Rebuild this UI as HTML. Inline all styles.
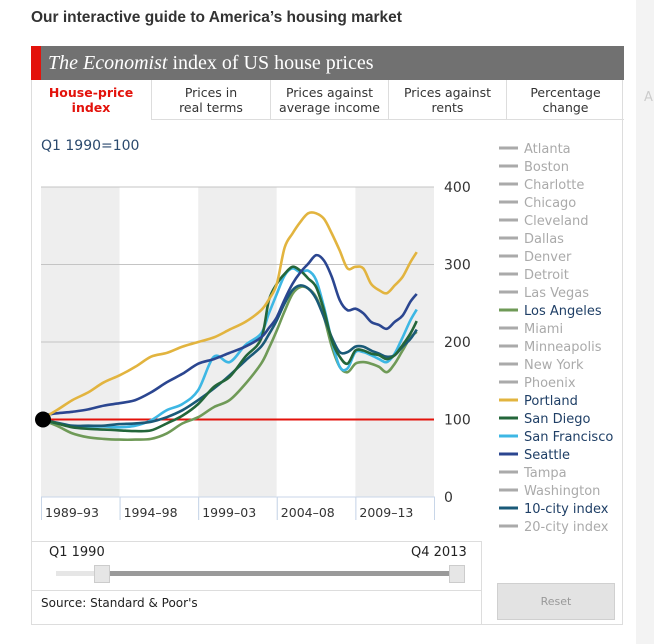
<!DOCTYPE html>
<html><head><meta charset="utf-8">
<style>
body{margin:0;width:654px;height:644px;background:#fff;font-family:"DejaVu Sans","Liberation Sans",sans-serif;position:relative;overflow:hidden}
.abs{position:absolute}
.tab{position:absolute;top:80px;height:40px;border-left:1px solid #ddd;border-bottom:1px solid #ddd;font-size:12.5px;color:#333;text-align:center;line-height:15px;padding-top:5px;box-sizing:border-box}
</style></head><body>
<div class="abs" style="left:636px;top:0;width:18px;height:644px;background:#f3f3f3"></div>
<div class="abs" style="left:644px;top:90px;font-size:13px;color:#ccc">A</div>
<div class="abs" style="left:31px;top:9px;font-family:'Liberation Sans',sans-serif;font-weight:bold;font-size:15.5px;color:#333">Our interactive guide to America’s housing market</div>
<div class="abs" style="left:31px;top:46px;width:592px;height:579px;border:1px solid #ddd;box-sizing:border-box"></div>
<div class="abs" style="left:31px;top:46px;width:593px;height:34px;background:#717171"></div>
<div class="abs" style="left:31px;top:46px;width:10px;height:34px;background:#e3120b"></div>
<div class="abs" style="left:48px;top:52px;font-family:'Liberation Serif',serif;font-size:20px;color:#fff"><i>The Economist</i> index of US house prices</div>
<div class="tab" style="left:31px;width:120px;color:#e3120b;font-weight:bold;border-bottom:none;border-left:none">House-price<br>index</div>
<div class="tab" style="left:151px;width:119px">Prices in<br>real terms</div>
<div class="tab" style="left:270px;width:118px">Prices against<br>average income</div>
<div class="tab" style="left:388px;width:118px">Prices against<br>rents</div>
<div class="tab" style="left:506px;width:118px">Percentage<br>change</div>
<div class="abs" style="left:41px;top:138px;font-size:14px;color:#2b4a6e">Q1 1990=100</div>

<svg class="abs" style="left:0;top:0" width="654" height="644" id="chart"></svg>

<div class="abs" style="left:31px;top:541px;width:451px;height:84px;border-top:1px solid #ddd;border-right:1px solid #ddd;box-sizing:border-box"></div>
<div class="abs" style="left:49px;top:545px;font-size:13px;color:#222">Q1 1990</div>
<div class="abs" style="left:411px;top:545px;font-size:13px;color:#222">Q4 2013</div>
<div class="abs" style="left:56px;top:571px;width:406px;height:5px;background:#e6e6e6"></div>
<div class="abs" style="left:104px;top:571px;width:350px;height:5px;background:#9a9a9a"></div>
<div class="abs" style="left:94px;top:565px;width:14px;height:16px;background:#e6e6e6;border:1px solid #ccc"></div>
<div class="abs" style="left:449px;top:565px;width:14px;height:16px;background:#e6e6e6;border:1px solid #ccc"></div>
<div class="abs" style="left:31px;top:590px;width:451px;height:1px;background:#ddd"></div>
<div class="abs" style="left:41px;top:596px;font-size:12px;color:#222">Source: Standard &amp; Poor's</div>
<div class="abs" style="left:497px;top:583px;width:118px;height:37px;background:#e3e3e3;border:1px solid #d0d0d0;box-sizing:border-box;font-size:11px;color:#999;text-align:center;line-height:35px">Reset</div>

<script>
const times=[1990,1991,1992,1993,1994,1995,1996,1997,1998,1999,2000,2001,2002,2003,2004,2004.5,2005,2005.5,2006,2006.5,2007,2007.5,2008,2008.5,2009,2009.5,2010,2010.5,2011,2011.5,2012,2012.5,2013,2013.5,2013.9];
const portland=[100,112,125,135,148,157,168,181,186,194,200,206,216,226,241,255,275,322,340,355,366,366,359,340,318,295,297,295,275,267,263,273,284,303,316];
const seattle=[105,108,110,113,118,121,125,135,148,159,172,178,186,194,206,218,232,255,275,290,301,312,305,284,254,241,243,237,226,222,217,226,234,252,262];
const sanFrancisco=[100,95,91,91,91,90,92,99,112,120,138,181,174,196,211,237,262,286,295,290,292,280,245,202,168,166,187,187,183,178,174,185,206,228,242];
const sanDiego=[100,95,90,88,87,86,85,86,95,105,120,142,155,181,204,254,275,288,297,292,282,271,241,202,181,172,189,189,185,183,178,183,196,211,227];
const tenCity=[100,96,92,92,92,94,95,97,103,112,125,140,157,176,194,210,228,250,267,273,269,256,232,206,187,187,194,194,189,185,181,183,194,204,216];
const losAngeles=[100,92,82,77,75,74,74,75,82,95,103,116,125,146,172,192,215,240,262,271,269,258,232,194,168,161,172,174,172,168,161,172,189,206,213];
const yTicks=[0,100,200,300,400];
const bandLabels=["1989–93","1994–98","1999–03","2004–08","2009–13"];
const legendNames=["Atlanta","Boston","Charlotte","Chicago","Cleveland","Dallas","Denver","Detroit","Las Vegas","Los Angeles","Miami","Minneapolis","New York","Phoenix","Portland","San Diego","San Francisco","Seattle","Tampa","Washington","10-city index","20-city index"];
const legendColors={"Los Angeles":"#6f9a57","Portland":"#e2b43f","San Diego":"#23663a","San Francisco":"#3db7e4","Seattle":"#2b4690","10-city index":"#1a5a78"};

const NS="http://www.w3.org/2000/svg";
const svg=document.getElementById('chart');
const X0=41,X1=434,Y0=497,Y1=187;
const x=t=>X0+(t-1990)/25*(X1-X0);
const y=v=>Y0-v/400*(Y0-Y1);
function mk(tag,attrs){const e=document.createElementNS(NS,tag);for(const k in attrs)e.setAttribute(k,attrs[k]);svg.appendChild(e);return e;}
function smooth(pts){
  let d='M'+pts[0][0].toFixed(1)+','+pts[0][1].toFixed(1);
  for(let i=0;i<pts.length-1;i++){
    const p0=pts[i-1]||pts[i],p1=pts[i],p2=pts[i+1],p3=pts[i+2]||p2;
    const c1=[p1[0]+(p2[0]-p0[0])/6,p1[1]+(p2[1]-p0[1])/6];
    const c2=[p2[0]-(p3[0]-p1[0])/6,p2[1]-(p3[1]-p1[1])/6];
    d+='C'+c1.map(v=>v.toFixed(1)).join(',')+' '+c2.map(v=>v.toFixed(1)).join(',')+' '+p2.map(v=>v.toFixed(1)).join(',');
  }
  return d;
}
const bw=(X1-X0)/5;
for(let i=0;i<5;i++){
  const r=mk('rect',{x:X0+i*bw,y:Y1,width:bw,height:Y0-Y1,fill:i%2?'#fff':'#eeeeee'});
  
  
  const b=mk('rect',{x:X0+i*bw+0.5,y:Y0,width:bw,height:24,fill:'#fff',stroke:'#c8d6e8'});
  
  
  const t=mk('text',{x:X0+i*bw+4,y:Y0+20,'font-size':12.5,fill:'#333','font-family':'DejaVu Sans, sans-serif'});
  t.textContent=bandLabels[i];
  
  
}
const cover=mk('rect',{x:35,y:Y0+23,width:410,height:10,fill:'#fff'});


yTicks.forEach(v=>{
  if(v>0&&v!==100){const g=mk('line',{x1:X0,x2:X1,y1:y(v),y2:y(v),stroke:'#c4c4c4','stroke-width':1});
  
  }
  const t=mk('text',{x:444,y:y(v)+5,'font-size':14,fill:'#333','font-family':'DejaVu Sans, sans-serif'});
  t.textContent=v;
  
  
});
const base=mk('line',{x1:X0,x2:X1,y1:y(100),y2:y(100),stroke:'#e3120b','stroke-width':2});


const series=[["los-angeles",losAngeles,"Los Angeles"],["san-francisco",sanFrancisco,"San Francisco"],["ten-city",tenCity,"10-city index"],["san-diego",sanDiego,"San Diego"],["seattle",seattle,"Seattle"],["portland",portland,"Portland"]];
series.forEach(([n,vals,c])=>{
  const pts=vals.map((v,i)=>[x(times[i]),y(v)]);
  const p=mk('path',{d:smooth(pts),fill:'none',stroke:legendColors[c],'stroke-width':2.6,'stroke-linejoin':'round'});
  
  
});
const dot=mk('circle',{cx:X0+2,cy:y(100),r:8,fill:'#000'});


legendNames.forEach((n,i)=>{
  const yy=148+i*18;
  const c=legendColors[n];
  const l=mk('line',{x1:499,x2:518,y1:yy,y2:yy,stroke:c||'#aaa','stroke-width':3});
  
  
  const t=mk('text',{x:524,y:yy+5,'font-size':13,fill:c?'#1f3f66':'#aaa','font-family':'DejaVu Sans, sans-serif'});
  t.textContent=n;
  
  
});
</script>
</body></html>
